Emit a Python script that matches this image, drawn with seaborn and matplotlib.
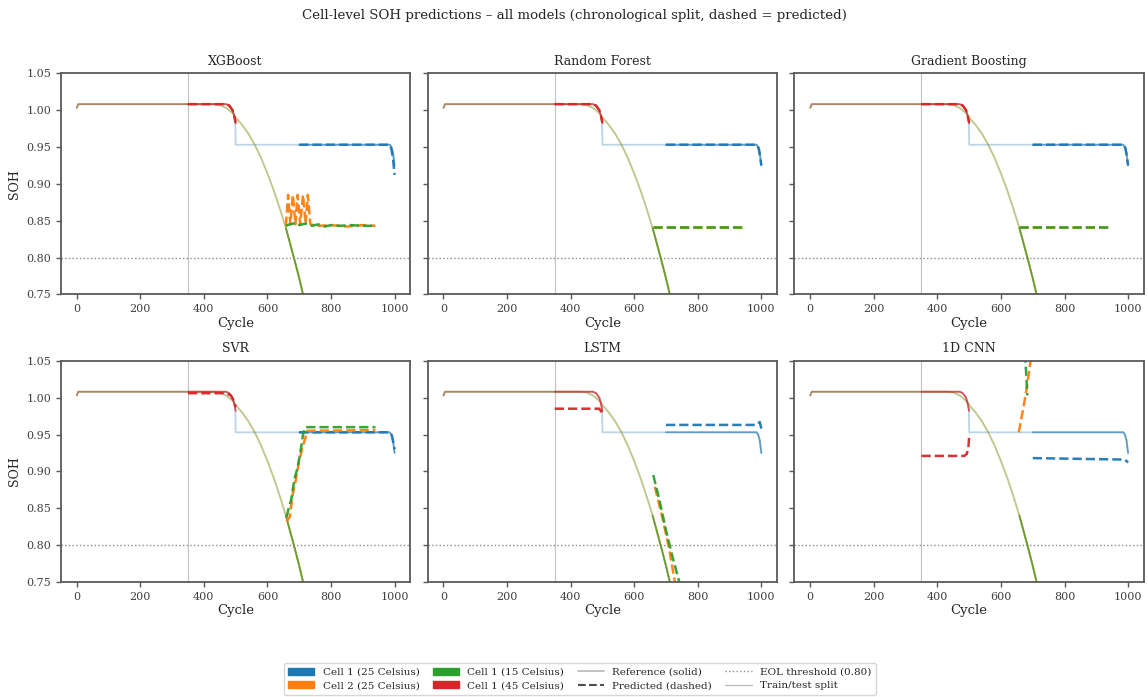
import matplotlib
matplotlib.use("Agg")
import matplotlib.pyplot as plt
import seaborn as sns
from matplotlib.patches import Patch
from matplotlib.lines import Line2D

# ---------------- data ----------------
MODELS = ["XGBoost", "Random Forest", "Gradient Boosting", "SVR", "LSTM", "1D CNN"]
CELLS = ["Cell 1 (25 Celsius)", "Cell 2 (25 Celsius)", "Cell 1 (15 Celsius)", "Cell 1 (45 Celsius)"]
CELL_COLORS = ["#1f77b4", "#ff7f0e", "#2ca02c", "#d62728"]
TEST_START = [700, 658, 658, 350]
SPLIT_CYCLE = 350
EOL = 0.80
X_TICKS = [0, 200, 400, 600, 800, 1000]
Y_TICKS = [0.75, 0.80, 0.85, 0.90, 0.95, 1.00, 1.05]

# reference (measured) SOH curves
REF_C1_25_CYC = [0, 5, 350, 470, 480, 490, 495, 499, 500, 700, 985, 990, 995, 1000]
REF_C1_25_SOH = [1.003, 1.008, 1.008, 1.008, 1.006, 1.000, 0.993, 0.982, 0.953, 0.953, 0.953, 0.950, 0.942, 0.925]

REF_C2_25_CYC = [0, 5, 350, 430, 450, 470, 490, 500, 520, 540, 560, 580, 600, 620, 640, 658, 670, 685, 700, 712, 740, 940]
REF_C2_25_SOH = [1.003, 1.008, 1.008, 1.008, 1.007, 1.003, 0.996, 0.990, 0.980, 0.968, 0.953, 0.935, 0.914,
                 0.891, 0.865, 0.840, 0.821, 0.797, 0.772, 0.750, 0.700, 0.400]

REF_C1_15_CYC = [0, 5, 350, 430, 450, 470, 490, 500, 520, 540, 560, 580, 600, 620, 640, 658, 670, 685, 700, 712, 740, 940]
REF_C1_15_SOH = [1.003, 1.008, 1.008, 1.008, 1.007, 1.003, 0.996, 0.990, 0.980, 0.968, 0.953, 0.935, 0.914,
                 0.891, 0.865, 0.840, 0.821, 0.797, 0.772, 0.750, 0.700, 0.400]

REF_C1_45_CYC = [0, 5, 350, 470, 480, 490, 495, 500]
REF_C1_45_SOH = [1.003, 1.008, 1.008, 1.008, 1.006, 1.000, 0.993, 0.982]

# predictions per model: one (cycles, soh) pair per cell, in CELLS order
PRED_XGB = [
    ([700, 985, 990, 995, 1000], [0.953, 0.953, 0.947, 0.935, 0.912]),
    ([658, 665, 672, 680, 688, 695, 703, 712, 720, 727, 735, 760, 800, 850, 900, 940],
     [0.843, 0.885, 0.845, 0.885, 0.845, 0.885, 0.845, 0.885, 0.845, 0.885, 0.845, 0.843, 0.844, 0.842, 0.844, 0.843]),
    ([658, 670, 690, 700, 720, 740, 760, 780, 800, 830, 860, 900, 940],
     [0.843, 0.845, 0.847, 0.844, 0.846, 0.843, 0.845, 0.842, 0.844, 0.843, 0.844, 0.843, 0.843]),
    ([350, 470, 480, 490, 495, 500], [1.008, 1.008, 1.006, 1.000, 0.993, 0.983]),
]
PRED_RF = [
    ([700, 985, 992, 1000], [0.953, 0.953, 0.948, 0.925]),
    ([658, 940], [0.842, 0.842]),
    ([658, 940], [0.842, 0.842]),
    ([350, 470, 480, 490, 495, 500], [1.008, 1.008, 1.006, 1.000, 0.993, 0.983]),
]
PRED_GB = [
    ([700, 985, 992, 1000], [0.953, 0.953, 0.948, 0.925]),
    ([658, 940], [0.841, 0.841]),
    ([658, 940], [0.841, 0.841]),
    ([350, 470, 480, 490, 495, 500], [1.008, 1.008, 1.006, 1.000, 0.993, 0.983]),
]
PRED_SVR = [
    ([700, 985, 992, 1000], [0.953, 0.953, 0.948, 0.930]),
    ([660, 670, 680, 690, 700, 712, 726, 940], [0.832, 0.838, 0.870, 0.890, 0.915, 0.935, 0.955, 0.956]),
    ([660, 668, 675, 685, 695, 705, 712, 720, 940], [0.838, 0.852, 0.862, 0.890, 0.905, 0.930, 0.950, 0.960, 0.960]),
    ([350, 470, 485, 495, 500], [1.006, 1.006, 1.003, 0.995, 0.987]),
]
PRED_LSTM = [
    ([700, 985, 995, 1000], [0.963, 0.963, 0.967, 0.958]),
    ([665, 690, 710, 730], [0.879, 0.835, 0.795, 0.745]),
    ([660, 680, 700, 720, 745], [0.895, 0.860, 0.820, 0.785, 0.745]),
    ([350, 490, 500], [0.985, 0.985, 0.979]),
]
PRED_CNN = [
    ([700, 850, 990, 1000], [0.918, 0.917, 0.916, 0.912]),
    ([656, 670, 680, 700], [0.953, 0.985, 1.010, 1.070]),
    ([676, 683], [1.060, 1.003]),
    ([350, 485, 493, 498, 500], [0.921, 0.921, 0.924, 0.935, 0.948]),
]
PREDICTIONS = [PRED_XGB, PRED_RF, PRED_GB, PRED_SVR, PRED_LSTM, PRED_CNN]
REFERENCES = [(REF_C1_25_CYC, REF_C1_25_SOH), (REF_C2_25_CYC, REF_C2_25_SOH),
              (REF_C1_15_CYC, REF_C1_15_SOH), (REF_C1_45_CYC, REF_C1_45_SOH)]

# ---------------- style ----------------
sns.set_style("ticks")
plt.rcParams["font.family"] = ["DejaVu Serif"]
plt.rcParams["axes.edgecolor"] = "0.35"
plt.rcParams["axes.linewidth"] = 1.3
plt.rcParams["xtick.color"] = "0.35"
plt.rcParams["ytick.color"] = "0.35"
plt.rcParams["xtick.labelcolor"] = "0.25"
plt.rcParams["ytick.labelcolor"] = "0.25"

fig, axes = plt.subplots(2, 3, figsize=(11.48, 6.97), dpi=100, sharey=True)
fig.subplots_adjust(left=0.053, right=0.9965, top=0.895, bottom=0.165, wspace=0.049, hspace=0.30)

for ax, model, preds in zip(axes.flat, MODELS, PREDICTIONS):
    ax.axvline(SPLIT_CYCLE, color="0.6", lw=0.8, alpha=0.6, zorder=1)
    ax.axhline(EOL, color="0.55", lw=1.0, ls=":", zorder=1)
    for (cyc, soh), color, t0 in zip(REFERENCES, CELL_COLORS, TEST_START):
        sns.lineplot(x=cyc, y=soh, ax=ax, color=color, lw=1.3, alpha=0.3,
                     estimator=None, sort=False, legend=False)
        tc = [c for c in cyc if c >= t0]
        ts = [s for c, s in zip(cyc, soh) if c >= t0]
        sns.lineplot(x=tc, y=ts, ax=ax, color=color, lw=1.3, alpha=0.6,
                     estimator=None, sort=False, legend=False)
    for (cyc, soh), color in zip(preds, CELL_COLORS):
        sns.lineplot(x=cyc, y=soh, ax=ax, color=color, lw=1.8, ls="--", alpha=0.95,
                     estimator=None, sort=False, legend=False)
    ax.set_title(model, fontsize=9)
    ax.set_xlim(-50, 1050)
    ax.set_ylim(0.75, 1.05)
    ax.set_xticks(X_TICKS)
    ax.set_yticks(Y_TICKS)
    ax.set_yticklabels([f"{v:.2f}" for v in Y_TICKS])
    ax.tick_params(labelsize=8, length=3.5, width=1.0)
    ax.set_xlabel("Cycle", fontsize=9.5, labelpad=2)
    ax.set_ylabel("SOH" if ax in axes[:, 0] else "", fontsize=9)

fig.suptitle("Cell-level SOH predictions – all models (chronological split, dashed = predicted)",
             fontsize=9.6, y=0.978, va="center")

handles = [Patch(color=c, label=l) for c, l in zip(CELL_COLORS, CELLS)]
handles += [
    Line2D([], [], color="0.6", lw=1.2, alpha=0.7, label="Reference (solid)"),
    Line2D([], [], color="0.3", lw=1.5, ls="--", label="Predicted (dashed)"),
    Line2D([], [], color="0.55", lw=1.0, ls=":", label="EOL threshold (0.80)"),
    Line2D([], [], color="0.75", lw=1.0, label="Train/test split"),
]
fig.legend(handles=handles, loc="center", bbox_to_anchor=(0.505, 0.026), ncol=4,
           fontsize=7.5, frameon=True, handlelength=2.5, columnspacing=1.3,
           borderpad=0.45, labelspacing=0.4)

fig.savefig("out.png", dpi=100)
